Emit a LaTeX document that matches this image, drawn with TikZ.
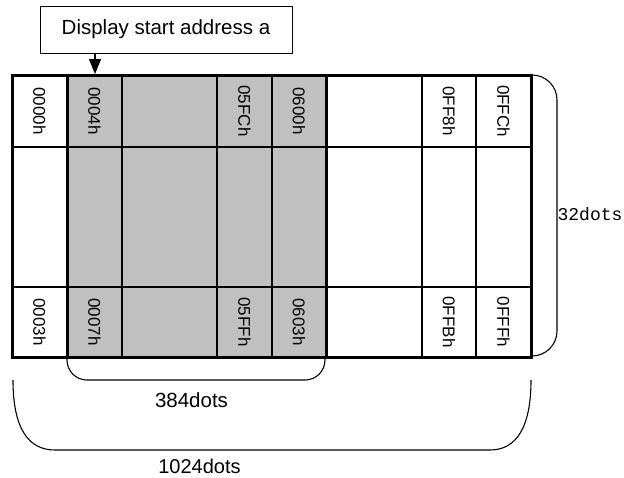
\documentclass[tikz,border=0pt]{standalone}
\usepackage{fontspec}
\setmainfont{Liberation Sans}
\newfontfamily\monof{Liberation Mono}
\usetikzlibrary{arrows.meta}
\definecolor{cellgray}{HTML}{C0C0C0}
\tikzset{
  thin line/.style={line width=1.3pt},
  thick line/.style={line width=3pt},
  celllabel/.style={rotate=-90, inner sep=0pt, font=\fontsize{17}{17}\selectfont},
  outerlabel/.style={inner sep=0pt, font=\fontsize{20.5}{20.5}\selectfont},
  bracket/.style={line width=1.1pt}
}
\begin{document}
\begin{tikzpicture}[x=1pt,y=-1pt]
\useasboundingbox[fill=white] (0,0) rectangle (624,477);
% gray display area
\fill[cellgray] (67,75) rectangle (326,357);
% grid lines
\foreach \x in {67,122,217,272,326,422,476}
  \draw[thin line] (\x,75) -- (\x,357);
\foreach \y in {147,287}
  \draw[thin line] (12,\y) -- (531,\y);
\draw[thick line] (67,75) rectangle (326,357);
\draw[thick line] (12,75) rectangle (531,357);
% labels
\node[celllabel] (l0000) at (39.5,111) {0000h};
\node[celllabel] (l0004) at (94.5,111) {0004h};
\node[celllabel] (l05FC) at (244.5,111) {05FCh};
\node[celllabel] (l0600) at (299,111) {0600h};
\node[celllabel] (l0FF8) at (449,111) {0FF8h};
\node[celllabel] (l0FFC) at (503.5,111) {0FFCh};
\node[celllabel] (l0003) at (39.5,322) {0003h};
\node[celllabel] (l0007) at (94.5,322) {0007h};
\node[celllabel] (l05FF) at (244.5,322) {05FFh};
\node[celllabel] (l0603) at (299,322) {0603h};
\node[celllabel] (l0FFB) at (449,322) {0FFBh};
\node[celllabel] (l0FFF) at (503.5,322) {0FFFh};
% top box
\node[draw, line width=1pt, minimum width=252pt, minimum height=47pt, inner sep=0pt, outerlabel] (start) at (166,29.5) {Display start address a};
\coordinate (cell) at (95,74);
\draw[line width=1.2pt, -{Triangle[length=15pt,width=12pt]}] (start.south -| cell) -- (cell);
% brackets
\draw[bracket, rounded corners=25pt] (530,75) -- (557,75) -- (557,356) -- (530,356);
\draw[bracket, rounded corners=20pt] (67,357) -- (67,380) -- (325,380) -- (325,357);
\draw[bracket] (13,380) .. controls (13,428) and (28,450) .. (55,450) -- (490,450) .. controls (516,450) and (531,428) .. (531,380);
\node[inner sep=0pt, font=\monof\fontsize{18}{18}\selectfont] (d32) at (590,214) {32dots};
\node[outerlabel] (d384) at (191.5,400.5) {384dots};
\node[inner sep=0pt, font=\fontsize{20}{20}\selectfont] (d1024) at (199.5,466) {1024dots};
\end{tikzpicture}
\end{document}
